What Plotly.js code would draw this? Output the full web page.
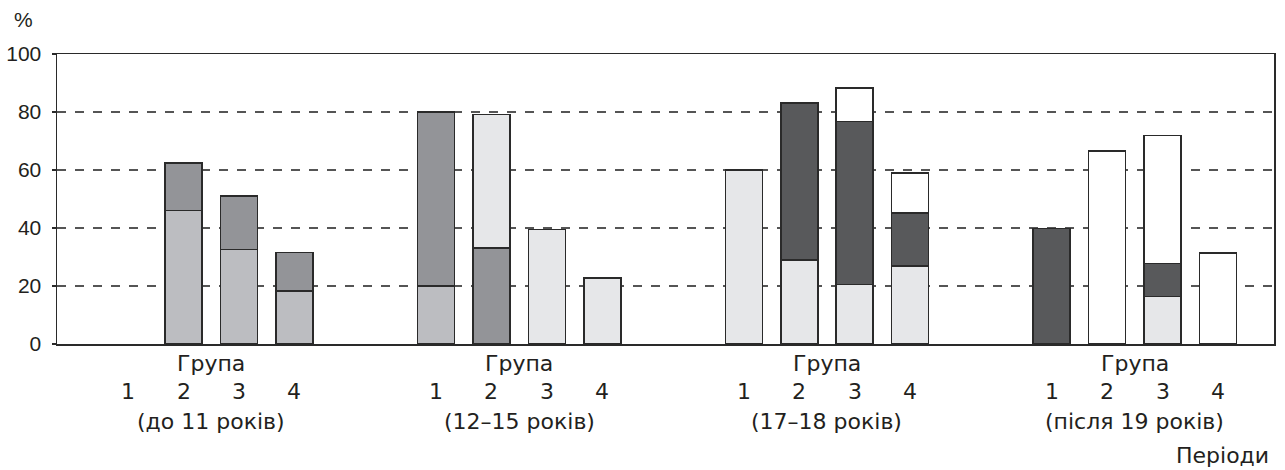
<!DOCTYPE html>
<html>
<head>
<meta charset="utf-8">
<script src="https://cdn.plot.ly/plotly-3.0.1.min.js"></script>
<style>html,body{margin:0;padding:0;background:#fff;} #chart{width:1285px;height:470px;}</style>
</head>
<body>
<div id="chart"></div>
<script>
// Periods (age groups) and group numbers
const periods = ["(до 11 років)", "(12–15 років)", "(17–18 років)", "(після 19 років)"];
const groups = ["1", "2", "3", "4"];
const groupWord = "Група";
const yTicks = [0, 20, 40, 60, 80, 100];

// Stacked segment heights (%), per period: groups 1..4 (null = no segment)
const seriesA = [[null, 46, 32.6, 18.2], [20, null, null, null], [null, null, null, null], [null, null, null, null]];
const seriesB = [[null, 16.4, 18.4, 13.4], [60, 33.1, null, null], [null, null, null, null], [null, null, null, null]];
const seriesC = [[null, null, null, null], [null, 46, 39.4, 22.8], [60, 28.9, 20.6, 26.9], [null, null, 16.3, null]];
const seriesD = [[null, null, null, null], [null, null, null, null], [null, 54.2, 56.1, 18.3], [39.8, null, 11.5, null]];
const seriesE = [[null, null, null, null], [null, null, null, null], [null, null, 11.6, 13.7], [null, 66.5, 44.1, 31.4]];

const colors = ["#bcbdc1", "#939498", "#e6e7e9", "#58595b", "#ffffff"];
const PERIOD_PITCH = 5.556;

const xs = [];
periods.forEach((p, pi) => groups.forEach((g, gi) => xs.push(pi * PERIOD_PITCH + gi)));

const all = [seriesA, seriesB, seriesC, seriesD, seriesE];
const traces = all.map((s, i) => ({
  type: "bar",
  x: xs,
  y: s.flat(),
  width: 0.668,
  marker: { color: colors[i], line: { color: "#2a2a2a", width: 1.5 } },
  hoverinfo: "y",
  showlegend: false
}));

const L = 57, R = 11, T = 54, B = 126, W = 1285, H = 470;
const py = v => (H - B - v) / (H - T - B);   // pixel row -> paper y
const px = v => (v - L) / (W - L - R);       // pixel column -> paper x

const font = { family: "Liberation Sans, Arial, sans-serif", size: 21, color: "#231f20" };
const afont = { family: "DejaVu Sans, Liberation Sans, sans-serif", size: 22, color: "#231f20" };
const annotations = [];
const mk = (x, xref, y, text, extra) => Object.assign({
  x: x, xref: xref, y: y, yref: "paper", text: text, showarrow: false,
  xanchor: "center", yanchor: "middle", font: afont
}, extra || {});
periods.forEach((p, pi) => {
  const cx = pi * PERIOD_PITCH + 1.5;
  annotations.push(mk(cx, "x", py(363), groupWord));
  annotations.push(mk(cx, "x", py(421), p));
  groups.forEach((g, gi) => annotations.push(mk(pi * PERIOD_PITCH + gi, "x", py(391), g)));
});
annotations.push(mk(px(23), "paper", py(19), "%", { font: font }));
annotations.push(mk(px(1271), "paper", py(455), "Періоди", { xanchor: "right" }));

const layout = {
  width: W, height: H,
  margin: { l: L, r: R, t: T, b: B, pad: 0 },
  paper_bgcolor: "#ffffff",
  plot_bgcolor: "#ffffff",
  barmode: "stack",
  font: font,
  xaxis: {
    range: [-1.285, 20.68],
    showticklabels: false,
    ticks: "",
    showgrid: false,
    zeroline: false,
    showline: true, mirror: true, linecolor: "#2a2a2a", linewidth: 1.5,
    fixedrange: true
  },
  yaxis: {
    range: [0, 100],
    tickvals: yTicks,
    ticktext: yTicks.map(String),
    ticks: "outside", ticklen: 4, tickwidth: 1.3, tickcolor: "#2a2a2a",
    ticklabelstandoff: 6,
    tickfont: font,
    showgrid: true, griddash: "dash", gridcolor: "#555555", gridwidth: 1.3,
    zeroline: false,
    showline: true, mirror: true, linecolor: "#2a2a2a", linewidth: 1.5,
    fixedrange: true
  },
  annotations: annotations
};

Plotly.newPlot("chart", traces, layout, { displayModeBar: false, staticPlot: true });
</script>
</body>
</html>
